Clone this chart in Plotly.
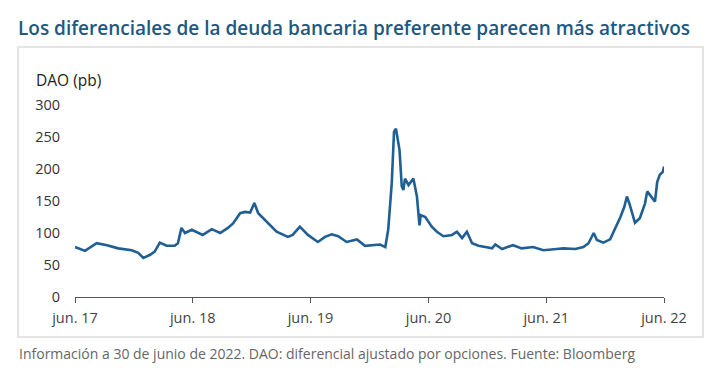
import plotly.graph_objects as go

dates = [
    "2017-06-30", "2017-07-31", "2017-09-05", "2017-10-07", "2017-11-11", "2017-12-23",
    "2018-01-12", "2018-01-28", "2018-02-18", "2018-03-04", "2018-03-20", "2018-04-10",
    "2018-05-05", "2018-05-15", "2018-05-26", "2018-06-06", "2018-06-27", "2018-07-16",
    "2018-07-31", "2018-08-28", "2018-09-23", "2018-10-17", "2018-11-02", "2018-11-24",
    "2018-12-09", "2018-12-25", "2019-01-07", "2019-01-19", "2019-02-10", "2019-02-25",
    "2019-03-17", "2019-04-21", "2019-05-06", "2019-05-28", "2019-06-22", "2019-07-23",
    "2019-08-14", "2019-09-04", "2019-09-24", "2019-10-20", "2019-11-21", "2019-12-16",
    "2020-01-10", "2020-02-01", "2020-02-17", "2020-02-26", "2020-03-08", "2020-03-15",
    "2020-03-21", "2020-04-01", "2020-04-08", "2020-04-13", "2020-04-18", "2020-04-29",
    "2020-05-14", "2020-05-25", "2020-06-02", "2020-06-06", "2020-06-20", "2020-07-10",
    "2020-07-26", "2020-08-15", "2020-09-11", "2020-09-26", "2020-10-12", "2020-10-27",
    "2020-11-12", "2020-12-02", "2020-12-23", "2021-01-13", "2021-01-23", "2021-02-13",
    "2021-03-19", "2021-04-15", "2021-05-20", "2021-06-21", "2021-08-01", "2021-08-22",
    "2021-09-28", "2021-10-23", "2021-11-08", "2021-11-24", "2021-12-04", "2021-12-24",
    "2022-01-14", "2022-01-30", "2022-02-15", "2022-02-27", "2022-03-07", "2022-03-16",
    "2022-04-01", "2022-04-16", "2022-05-02", "2022-05-09", "2022-05-17", "2022-06-02",
    "2022-06-09", "2022-06-17", "2022-06-27", "2022-06-30",
]
oas = [
    78, 72, 84, 81, 76, 73,
    69, 61, 66, 71, 85, 80,
    80, 84, 108, 100, 105, 101,
    97, 106, 100, 108, 115, 131,
    133, 132, 147, 131, 120, 111,
    102, 94, 97, 110, 97, 86,
    94, 98, 95, 86, 90, 80,
    81, 82, 78, 105, 178, 258,
    263, 230, 173, 167, 185, 175,
    185, 157, 112, 128, 125, 110,
    102, 95, 97, 102, 92, 102,
    84, 80, 78, 76, 82, 75,
    81, 76, 78, 73, 75, 76,
    75, 78, 84, 100, 89, 85,
    90, 107, 125, 141, 157, 144,
    116, 123, 146, 165, 159, 149,
    180, 191, 196, 204,
]

tick_dates = ["2017-06-30", "2018-06-30", "2019-06-30", "2020-06-30", "2021-06-30", "2022-06-30"]
tick_labels = ["jun. 17", "jun. 18", "jun. 19", "jun. 20", "jun. 21", "jun. 22"]
y_ticks = [0, 50, 100, 150, 200, 250, 300]

title_text = "Los diferenciales de la deuda bancaria preferente parecen más atractivos"
y_label = "DAO (pb)"
footer_text = "Información a 30 de junio de 2022. DAO: diferencial ajustado por opciones. Fuente: Bloomberg"

OFF = 8  # page body margin
W, H = 724 - OFF, 390 - OFF
L = 75 - OFF
T = 105 - OFF
R = W - (664 - OFF)
B = H - (297 - OFF)
pw, ph = W - L - R, H - T - B

def px_x(x):
    return (x - OFF - L) / pw

def px_y(y):
    return (H - B - (y - OFF)) / ph

fig = go.Figure()
fig.add_trace(go.Scatter(
    x=dates, y=oas, mode="lines",
    line=dict(color="#1f5f94", width=2.6),
    hoverinfo="skip", showlegend=False,
))

fig.update_layout(
    width=W, height=H,
    margin=dict(l=L, r=R, t=T, b=B),
    paper_bgcolor="white", plot_bgcolor="white",
    font=dict(family="Open Sans", color="#333333"),
    title=dict(
        text=title_text, x=(18 - OFF) / W, xanchor="left", xref="container",
        y=1 - (28 - OFF) / H, yanchor="middle", yref="container",
        pad=dict(l=0, r=0, t=0, b=0),
        font=dict(family="Open Sans", size=19, color="#22587f", weight=600),
    ),
    xaxis=dict(
        range=["2017-06-30", "2022-06-30"],
        tickvals=tick_dates, ticktext=tick_labels,
        showline=True, linecolor="#555555", linewidth=1.3,
        ticks="outside", ticklen=5, tickcolor="#555555", tickwidth=1.3,
        showgrid=False, zeroline=False, ticklabelstandoff=2,
        tickfont=dict(size=14.5, color="#444444"),
    ),
    yaxis=dict(
        range=[0, 300], tickvals=y_ticks,
        showgrid=False, zeroline=False, showline=False,
        ticks="", ticklabelstandoff=14,
        tickfont=dict(size=14.5, color="#333333"),
    ),
    shapes=[dict(
        type="rect", xref="paper", yref="paper",
        x0=px_x(18), x1=px_x(703), y0=px_y(337), y1=px_y(47),
        line=dict(color="#dcdcdc", width=1.5), layer="below",
    )],
    annotations=[
        dict(text=y_label, xref="paper", yref="paper", x=px_x(34), y=px_y(80),
             xanchor="left", yanchor="middle", showarrow=False,
             font=dict(size=15.5, color="#222222", weight=500)),
        dict(text=footer_text, xref="paper", yref="paper", x=px_x(17), y=px_y(353),
             xanchor="left", yanchor="middle", showarrow=False,
             font=dict(size=14, color="#666666")),
    ],
)

fig.write_html("out.html")
